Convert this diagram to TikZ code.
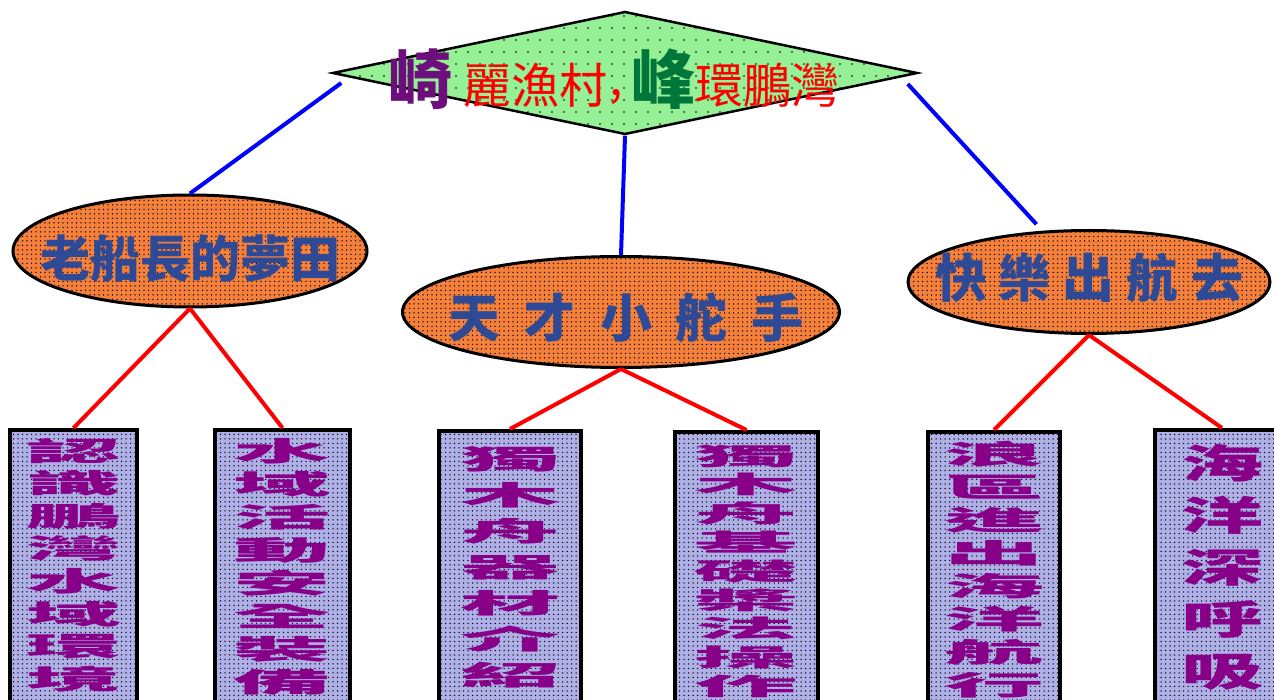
\documentclass[tikz,border=0pt]{standalone}
\usepackage{fontspec}
\usepackage{graphicx}
\usepackage{xcolor}
\usetikzlibrary{shapes.geometric, patterns.meta}
\newfontfamily\cjk{Noto Sans CJK TC}

\definecolor{leafgreen}{RGB}{150,240,150}
\definecolor{sunorange}{RGB}{245,128,60}
\definecolor{lavender}{RGB}{176,176,232}
\definecolor{inkblue}{RGB}{46,74,150}
\definecolor{plum}{RGB}{136,0,136}
\definecolor{grape}{RGB}{108,14,124}
\definecolor{pine}{RGB}{0,118,58}

\newcommand{\colfont}[2]{\cjk\bfseries\fontsize{#1}{#2}\selectfont}
\newcommand{\colstack}[2]{\scalebox{#1}[1]{\vtop{\lineskiplimit=-100pt\let\\\cr
  \halign{\hfil##\hfil\cr#2\cr}}}}
\newlength{\chargap}
\newcommand{\spreadout}[2]{\setlength{\chargap}{#1}\spreadloop#2\relax\unskip}
\def\spreadloop#1{\ifx#1\relax\else#1\hspace{\chargap}\expandafter\spreadloop\fi}

\begin{document}
\begin{tikzpicture}[x=1pt, y=-1pt,
    peak/.style={diamond, draw, line width=2.5pt, fill=leafgreen, inner sep=0pt,
      postaction={pattern={Dots[distance=12pt, radius=0.9pt]}, pattern color=black}},
    course/.style={ellipse, draw, line width=3pt, fill=sunorange, inner sep=0pt,
      postaction={pattern={Dots[distance=4.5pt, radius=0.75pt]}, pattern color=black}},
    coursetext/.style={font=\cjk\bfseries\fontsize{#1}{#1}\selectfont, text=inkblue},
    column/.style={draw, line width=4pt, fill=lavender, anchor=north, inner xsep=0pt,
      inner ysep=4pt, text depth=320pt, text=plum,
      postaction={pattern={Dots[distance=4.5pt, radius=0.75pt]}, pattern color=black}},
    spoke/.style={draw=blue, line width=4pt},
    twig/.style={draw=red, line width=4pt}]

  \useasboundingbox (0,0) rectangle (1274,700);

  \node[peak, minimum width=585pt, minimum height=123pt,
    label={[font=\cjk\bfseries, xshift=-11pt, yshift=-6pt]center:{%
      {\color{grape}\fontsize{64}{64}\selectfont 崎}%
      {\color{red}\fontsize{48}{48}\selectfont\mdseries\ 麗漁村\hspace{2pt}\raisebox{8pt}{,}\hspace{8pt}}%
      {\color{pine}\fontsize{64}{64}\selectfont 峰}%
      {\color{red}\fontsize{48}{48}\selectfont\mdseries 環鵬灣}}}] (title) at (625,73) {};

  \node[course, minimum width=354pt, minimum height=112pt,
    label={[coursetext=50, yshift=-8pt]center:{\spreadout{0pt}{老船長的夢田}}}] (dream) at (190,251) {};
  \node[course, minimum width=437pt, minimum height=111pt,
    label={[coursetext=52, xshift=5pt, yshift=-6pt]center:{\spreadout{24pt}{天才小舵手}}}] (skipper) at (621,312) {};
  \node[course, minimum width=362pt, minimum height=103pt,
    label={[coursetext=52, yshift=4pt]center:{\spreadout{12pt}{快樂出航去}}}] (happy) at (1089,282) {};

  \node[column, minimum width=127pt, text height=27pt, font=\colfont{27}{32.6}] (waters) at (73.5,428)
    {\colstack{3.5}{認\\識\\鵬\\灣\\水\\域\\環\\境}};
  \node[column, minimum width=135pt, text height=27pt, font=\colfont{27}{33}] (safety) at (282.5,428)
    {\colstack{3.6}{水\\域\\活\\動\\安\\全\\裝\\備}};
  \node[column, minimum width=142pt, text height=34pt, font=\colfont{27}{36}] (gear) at (510,429)
    {\colstack{3.7}{獨\\木\\舟\\器\\材\\介\\紹}};
  \node[column, minimum width=143pt, text height=29pt, font=\colfont{24}{28.8}] (paddle) at (746.5,430)
    {\colstack{4.3}{獨\\木\\舟\\基\\礎\\槳\\法\\操\\作}};
  \node[column, minimum width=132pt, text height=28pt, font=\colfont{27}{33}] (surf) at (994,430)
    {\colstack{3.7}{浪\\區\\進\\出\\海\\洋\\航\\行}};
  \node[column, minimum width=134pt, text height=44pt, font=\colfont{40}{52}] (breath) at (1222,428)
    {\colstack{2.05}{海\\洋\\深\\呼\\吸}};

  \draw[spoke] ([xshift=10pt, yshift=-10pt]title.west) -- (dream.north);
  \draw[spoke] (title.south) -- (skipper.north);
  \draw[spoke] ([xshift=-11pt, yshift=-11pt]title.east) -- ([yshift=7pt]happy.136);

  \draw[twig] (dream.south) -- (waters.north);
  \draw[twig] (dream.south) -- (safety.north);
  \draw[twig] (skipper.south) -- (gear.north);
  \draw[twig] (skipper.south) -- (paddle.north);
  \draw[twig] (happy.south) -- (surf.north);
  \draw[twig] (happy.south) -- (breath.north);

\end{tikzpicture}
\end{document}
